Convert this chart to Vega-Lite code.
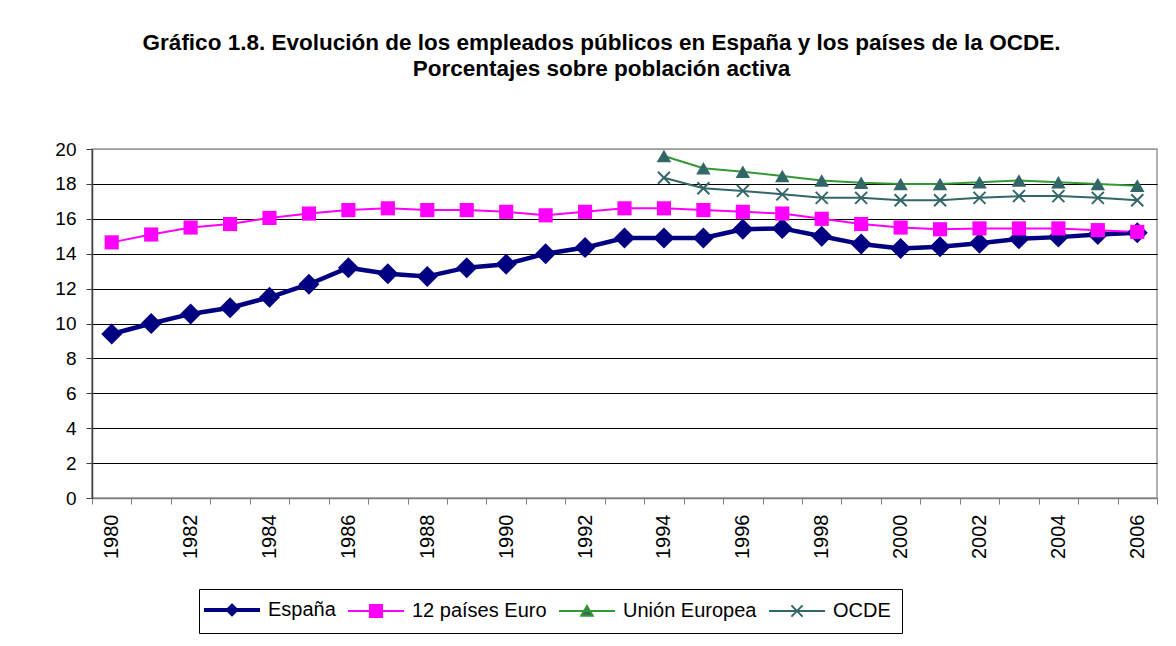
{
  "$schema": "https://vega.github.io/schema/vega-lite/v6.json",
  "width": 1065,
  "height": 349,
  "autosize": {"type": "none"},
  "padding": {"left": 92, "top": 149, "right": 19, "bottom": 148},
  "background": "white",
  "config": {
    "font": "Liberation Sans",
    "view": {"stroke": "#999999", "strokeWidth": 1.5}
  },
  "title": {
    "text": ["Gráfico 1.8. Evolución de los empleados públicos en España y los países de la OCDE.", "Porcentajes sobre población activa"],
    "fontSize": 22.5,
    "fontWeight": "bold",
    "font": "Liberation Sans",
    "color": "black",
    "anchor": "middle",
    "frame": "group",
    "dx": -23,
    "baseline": "alphabetic",
    "lineHeight": 26,
    "offset": 42
  },
  "data": {
    "values": [
      {"year": 1980, "serie": "España", "value": 9.4},
      {"year": 1981, "serie": "España", "value": 10.0},
      {"year": 1982, "serie": "España", "value": 10.55},
      {"year": 1983, "serie": "España", "value": 10.9},
      {"year": 1984, "serie": "España", "value": 11.5},
      {"year": 1985, "serie": "España", "value": 12.25},
      {"year": 1986, "serie": "España", "value": 13.2},
      {"year": 1987, "serie": "España", "value": 12.85},
      {"year": 1988, "serie": "España", "value": 12.7},
      {"year": 1989, "serie": "España", "value": 13.2},
      {"year": 1990, "serie": "España", "value": 13.4},
      {"year": 1991, "serie": "España", "value": 14.0},
      {"year": 1992, "serie": "España", "value": 14.35},
      {"year": 1993, "serie": "España", "value": 14.9},
      {"year": 1994, "serie": "España", "value": 14.9},
      {"year": 1995, "serie": "España", "value": 14.9},
      {"year": 1996, "serie": "España", "value": 15.4},
      {"year": 1997, "serie": "España", "value": 15.45},
      {"year": 1998, "serie": "España", "value": 15.0},
      {"year": 1999, "serie": "España", "value": 14.55},
      {"year": 2000, "serie": "España", "value": 14.3},
      {"year": 2001, "serie": "España", "value": 14.4},
      {"year": 2002, "serie": "España", "value": 14.6},
      {"year": 2003, "serie": "España", "value": 14.85},
      {"year": 2004, "serie": "España", "value": 14.95},
      {"year": 2005, "serie": "España", "value": 15.1},
      {"year": 2006, "serie": "España", "value": 15.2},
      {"year": 1980, "serie": "12 países Euro", "value": 14.65},
      {"year": 1981, "serie": "12 países Euro", "value": 15.1},
      {"year": 1982, "serie": "12 países Euro", "value": 15.5},
      {"year": 1983, "serie": "12 países Euro", "value": 15.7},
      {"year": 1984, "serie": "12 países Euro", "value": 16.05},
      {"year": 1985, "serie": "12 países Euro", "value": 16.3},
      {"year": 1986, "serie": "12 países Euro", "value": 16.5},
      {"year": 1987, "serie": "12 países Euro", "value": 16.6},
      {"year": 1988, "serie": "12 países Euro", "value": 16.5},
      {"year": 1989, "serie": "12 países Euro", "value": 16.5},
      {"year": 1990, "serie": "12 países Euro", "value": 16.4},
      {"year": 1991, "serie": "12 países Euro", "value": 16.2},
      {"year": 1992, "serie": "12 países Euro", "value": 16.4},
      {"year": 1993, "serie": "12 países Euro", "value": 16.6},
      {"year": 1994, "serie": "12 países Euro", "value": 16.6},
      {"year": 1995, "serie": "12 países Euro", "value": 16.5},
      {"year": 1996, "serie": "12 países Euro", "value": 16.4},
      {"year": 1997, "serie": "12 países Euro", "value": 16.3},
      {"year": 1998, "serie": "12 países Euro", "value": 16.0},
      {"year": 1999, "serie": "12 países Euro", "value": 15.7},
      {"year": 2000, "serie": "12 países Euro", "value": 15.5},
      {"year": 2001, "serie": "12 países Euro", "value": 15.4},
      {"year": 2002, "serie": "12 países Euro", "value": 15.45},
      {"year": 2003, "serie": "12 países Euro", "value": 15.45},
      {"year": 2004, "serie": "12 países Euro", "value": 15.45},
      {"year": 2005, "serie": "12 países Euro", "value": 15.35},
      {"year": 2006, "serie": "12 países Euro", "value": 15.25},
      {"year": 1994, "serie": "Unión Europea", "value": 19.6},
      {"year": 1995, "serie": "Unión Europea", "value": 18.9},
      {"year": 1996, "serie": "Unión Europea", "value": 18.7},
      {"year": 1997, "serie": "Unión Europea", "value": 18.45},
      {"year": 1998, "serie": "Unión Europea", "value": 18.2},
      {"year": 1999, "serie": "Unión Europea", "value": 18.07},
      {"year": 2000, "serie": "Unión Europea", "value": 18.0},
      {"year": 2001, "serie": "Unión Europea", "value": 18.0},
      {"year": 2002, "serie": "Unión Europea", "value": 18.1},
      {"year": 2003, "serie": "Unión Europea", "value": 18.2},
      {"year": 2004, "serie": "Unión Europea", "value": 18.1},
      {"year": 2005, "serie": "Unión Europea", "value": 18.0},
      {"year": 2006, "serie": "Unión Europea", "value": 17.9},
      {"year": 1994, "serie": "OCDE", "value": 18.35},
      {"year": 1995, "serie": "OCDE", "value": 17.75},
      {"year": 1996, "serie": "OCDE", "value": 17.6},
      {"year": 1997, "serie": "OCDE", "value": 17.4},
      {"year": 1998, "serie": "OCDE", "value": 17.2},
      {"year": 1999, "serie": "OCDE", "value": 17.2},
      {"year": 2000, "serie": "OCDE", "value": 17.06},
      {"year": 2001, "serie": "OCDE", "value": 17.06},
      {"year": 2002, "serie": "OCDE", "value": 17.2},
      {"year": 2003, "serie": "OCDE", "value": 17.3},
      {"year": 2004, "serie": "OCDE", "value": 17.3},
      {"year": 2005, "serie": "OCDE", "value": 17.2},
      {"year": 2006, "serie": "OCDE", "value": 17.06}
    ]
  },
  "encoding": {
    "x": {
      "field": "year",
      "type": "ordinal",
      "scale": {"type": "band", "paddingInner": 0, "paddingOuter": 0},
      "axis": {
        "title": null,
        "labelExpr": "datum.value % 2 === 0 ? datum.label : ''",
        "labelAngle": -90,
        "labelFontSize": 20,
        "labelColor": "black",
        "labelFont": "Liberation Sans",
        "labelOverlap": false,
        "labelPadding": 10,
        "tickBand": "extent",
        "tickSize": 6,
        "tickColor": "#808080",
        "domainColor": "#808080",
        "domainWidth": 1.5,
        "grid": false
      }
    },
    "y": {
      "field": "value",
      "type": "quantitative",
      "scale": {"domain": [0, 20], "nice": false, "zero": true},
      "axis": {
        "title": null,
        "values": [0, 2, 4, 6, 8, 10, 12, 14, 16, 18, 20],
        "grid": true,
        "gridColor": {"condition": {"test": "datum.value === 20", "value": "#999999"}, "value": "black"},
        "gridOpacity": 1,
        "gridWidth": 1,
        "domainColor": "#404040",
        "domainWidth": 1.5,
        "tickColor": "#404040",
        "tickSize": 6,
        "labelFontSize": 19,
        "labelColor": "black",
        "labelFont": "Liberation Sans",
        "labelPadding": 10
      }
    }
  },
  "layer": [
    {
      "mark": {"type": "line", "strokeJoin": "round"},
      "encoding": {
        "color": {
          "field": "serie",
          "type": "nominal",
          "scale": {
            "domain": ["España", "12 países Euro", "Unión Europea", "OCDE"],
            "range": ["#000080", "#FF00FF", "#339933", "#336666"]
          },
          "legend": {
            "orient": "none",
            "legendX": 107,
            "legendY": 440,
            "direction": "horizontal",
            "title": null,
            "strokeColor": "black",
            "fillColor": "white",
            "padding": 11,
            "labelFontSize": 20,
            "labelColor": "black",
            "labelFont": "Liberation Sans",
            "symbolSize": 1024,
            "symbolStrokeWidth": 0,
            "symbolOffset": 12,
            "labelOffset": 26,
            "columnPadding": 8,
            "encode": {
              "symbols": {
                "update": {
                  "shape": {"signal": "datum.value === 'España' ? 'M-1.75,0H1.75M0,-0.25L0.25,0L0,0.25L-0.25,0Z' : datum.value === '12 países Euro' ? 'M-1.75,0H1.75M-0.38,-0.38H0.38V0.38H-0.38Z' : datum.value === 'Unión Europea' ? 'M-1.75,0H1.75M0,-0.32L0.36,0.3L-0.36,0.3Z' : 'M-1.75,0H1.75M-0.35,-0.35L0.35,0.35M-0.35,0.35L0.35,-0.35'"},
                  "fill": {"signal": "datum.value === 'España' ? '#000080' : datum.value === '12 países Euro' ? '#FF00FF' : datum.value === 'Unión Europea' ? '#336666' : 'transparent'"},
                  "stroke": {"signal": "datum.value === 'España' ? '#000080' : datum.value === '12 países Euro' ? '#FF00FF' : datum.value === 'Unión Europea' ? '#339933' : '#336666'"},
                  "strokeWidth": {"signal": "datum.value === 'España' ? 4 : 2"},
                  "opacity": {"value": 1}
                }
              }
            }
          }
        },
        "strokeWidth": {
          "condition": {"test": "datum.serie === 'España'", "value": 4.5},
          "value": 2
        }
      }
    },
    {
      "transform": [{"filter": "datum.serie === 'España'"}],
      "mark": {"type": "point", "shape": "diamond", "filled": true, "color": "#000080", "size": 441, "opacity": 1, "strokeWidth": 0}
    },
    {
      "transform": [{"filter": "datum.serie === '12 países Euro'"}],
      "mark": {"type": "point", "shape": "square", "filled": true, "color": "#FF00FF", "size": 200, "opacity": 1, "strokeWidth": 0}
    },
    {
      "transform": [{"filter": "datum.serie === 'Unión Europea'"}],
      "mark": {"type": "point", "shape": "triangle-up", "filled": true, "color": "#336666", "size": 210, "opacity": 1, "strokeWidth": 0}
    },
    {
      "transform": [{"filter": "datum.serie === 'OCDE'"}],
      "mark": {"type": "point", "shape": "M-1,-1L1,1M-1,1L1,-1", "filled": false, "color": "#336666", "size": 144, "opacity": 1, "strokeWidth": 2}
    }
  ]
}
